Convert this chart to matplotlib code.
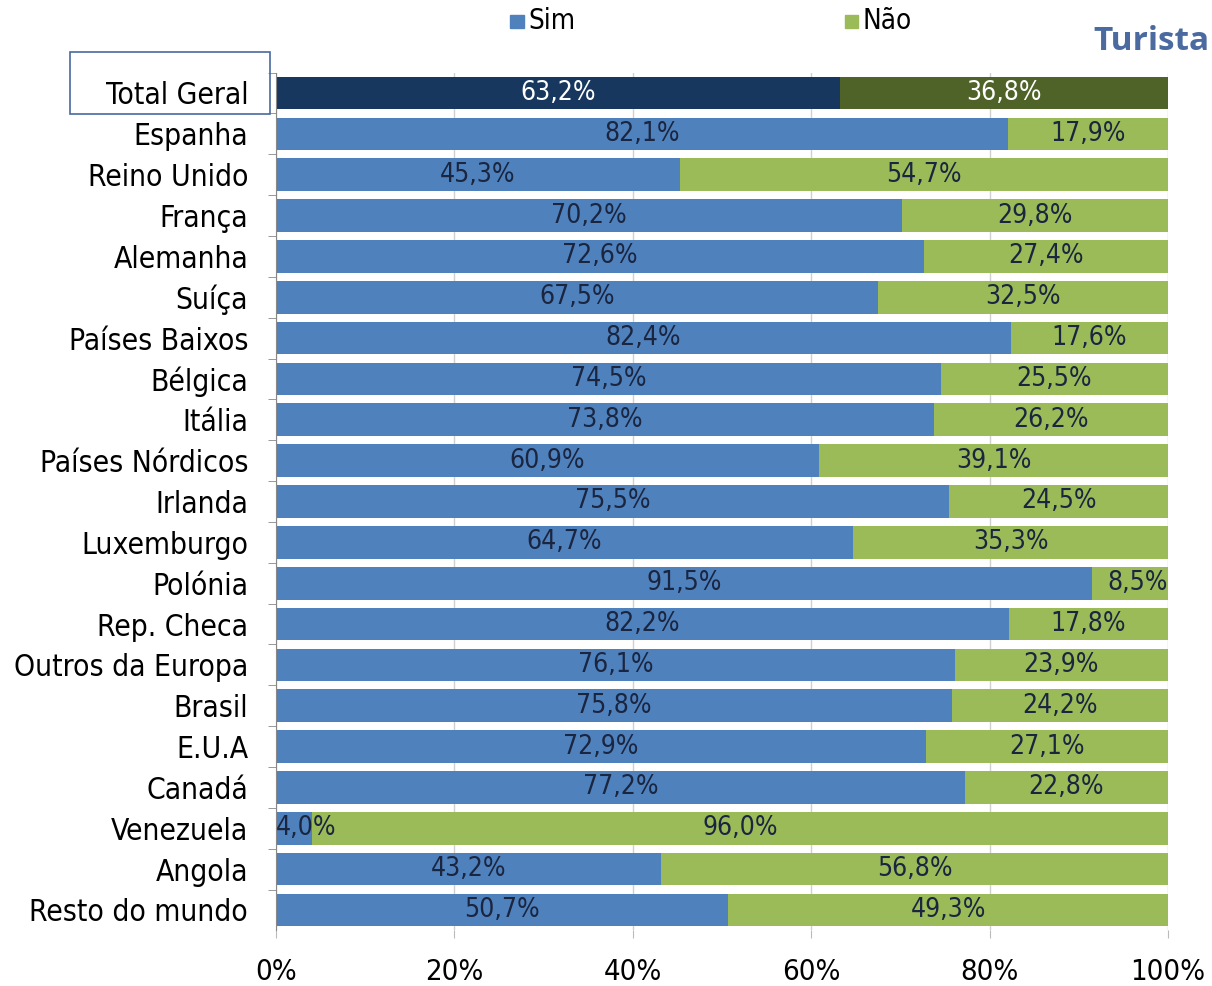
import matplotlib
matplotlib.use("Agg")
import matplotlib.pyplot as plt
from matplotlib.patches import Rectangle

paises = ["Total Geral", "Espanha", "Reino Unido", "França", "Alemanha", "Suíça",
          "Países Baixos", "Bélgica", "Itália", "Países Nórdicos", "Irlanda",
          "Luxemburgo", "Polónia", "Rep. Checa", "Outros da Europa", "Brasil",
          "E.U.A", "Canadá", "Venezuela", "Angola", "Resto do mundo"]
sim = [63.2, 82.1, 45.3, 70.2, 72.6, 67.5, 82.4, 74.5, 73.8, 60.9, 75.5,
       64.7, 91.5, 82.2, 76.1, 75.8, 72.9, 77.2, 4.0, 43.2, 50.7]
nao = [36.8, 17.9, 54.7, 29.8, 27.4, 32.5, 17.6, 25.5, 26.2, 39.1, 24.5,
       35.3, 8.5, 17.8, 23.9, 24.2, 27.1, 22.8, 96.0, 56.8, 49.3]
xticks = [0, 20, 40, 60, 80, 100]

azul = "#4F81BD"
verde = "#9BBB59"
azul_esc = "#17375E"
verde_esc = "#4F6228"
fonte = dict(family="DejaVu Sans", stretch="condensed")

fig = plt.figure(figsize=(12.12, 9.86), dpi=100)
ax = fig.add_axes([0.2277, 0.0564, 0.736, 0.870])

y = list(range(len(paises)))
cor_sim = [azul_esc] + [azul] * (len(paises) - 1)
cor_nao = [verde_esc] + [verde] * (len(paises) - 1)
ax.barh(y, sim, height=0.8, color=cor_sim, zorder=2)
ax.barh(y, nao, left=sim, height=0.8, color=cor_nao, zorder=2)

for i in y:
    c = "white" if i == 0 else "#1A2540"
    s, n = sim[i], nao[i]
    if s < 8:
        ax.text(0, i, f"{s:.1f}%".replace(".", ","), ha="left", va="center",
                fontsize=19, color=c, **fonte)
    else:
        ax.text(s / 2, i, f"{s:.1f}%".replace(".", ","), ha="center", va="center",
                fontsize=19, color=c, **fonte)
    if n < 10:
        ax.text(100, i, f"{n:.1f}%".replace(".", ","), ha="right", va="center",
                fontsize=19, color=c, **fonte)
    else:
        ax.text(s + n / 2, i, f"{n:.1f}%".replace(".", ","), ha="center", va="center",
                fontsize=19, color=c, **fonte)

ax.set_xlim(0, 100)
ax.set_ylim(len(paises) - 0.5, -0.5)
ax.set_xticks(xticks)
ax.set_xticklabels([f"{v}%" for v in xticks], fontsize=21, **fonte)
ax.set_yticks(y)
ax.set_yticklabels(paises, fontsize=21.5, va="center_baseline", **fonte)
ax.set_yticks([i + 0.5 for i in y[:-1]] + [-0.5], minor=True)
ax.tick_params(axis="y", which="major", length=0, pad=20)
ax.tick_params(axis="y", which="minor", length=6, color="#888888")
ax.tick_params(axis="x", length=6, color="#BBBBBB", pad=14)
ax.xaxis.grid(True, color="#D0D0D0", lw=1, zorder=0)
ax.set_axisbelow(True)
for k in ["top", "right", "bottom"]:
    ax.spines[k].set_visible(False)
ax.spines["left"].set_color("#888888")

# legenda
fig.patches.append(Rectangle((0.421, 0.972), 0.011, 0.013, transform=fig.transFigure,
                             color=azul))
fig.text(0.436, 0.979, "Sim", fontsize=20, va="center", **fonte)
fig.patches.append(Rectangle((0.697, 0.972), 0.011, 0.013, transform=fig.transFigure,
                             color=verde))
fig.text(0.712, 0.979, "Não", fontsize=20, va="center", **fonte)

fig.text(0.998, 0.958, "Turista", fontsize=24, fontweight="bold", color="#4A6AA0",
         ha="right", va="center", family="Open Sans")

# caixa em torno de Total Geral
fig.patches.append(Rectangle((0.058, 0.884), 0.165, 0.063, transform=fig.transFigure,
                             fill=False, ec="#4A6AA0", lw=1.2))

fig.savefig("out.png", dpi=100, facecolor="white")
